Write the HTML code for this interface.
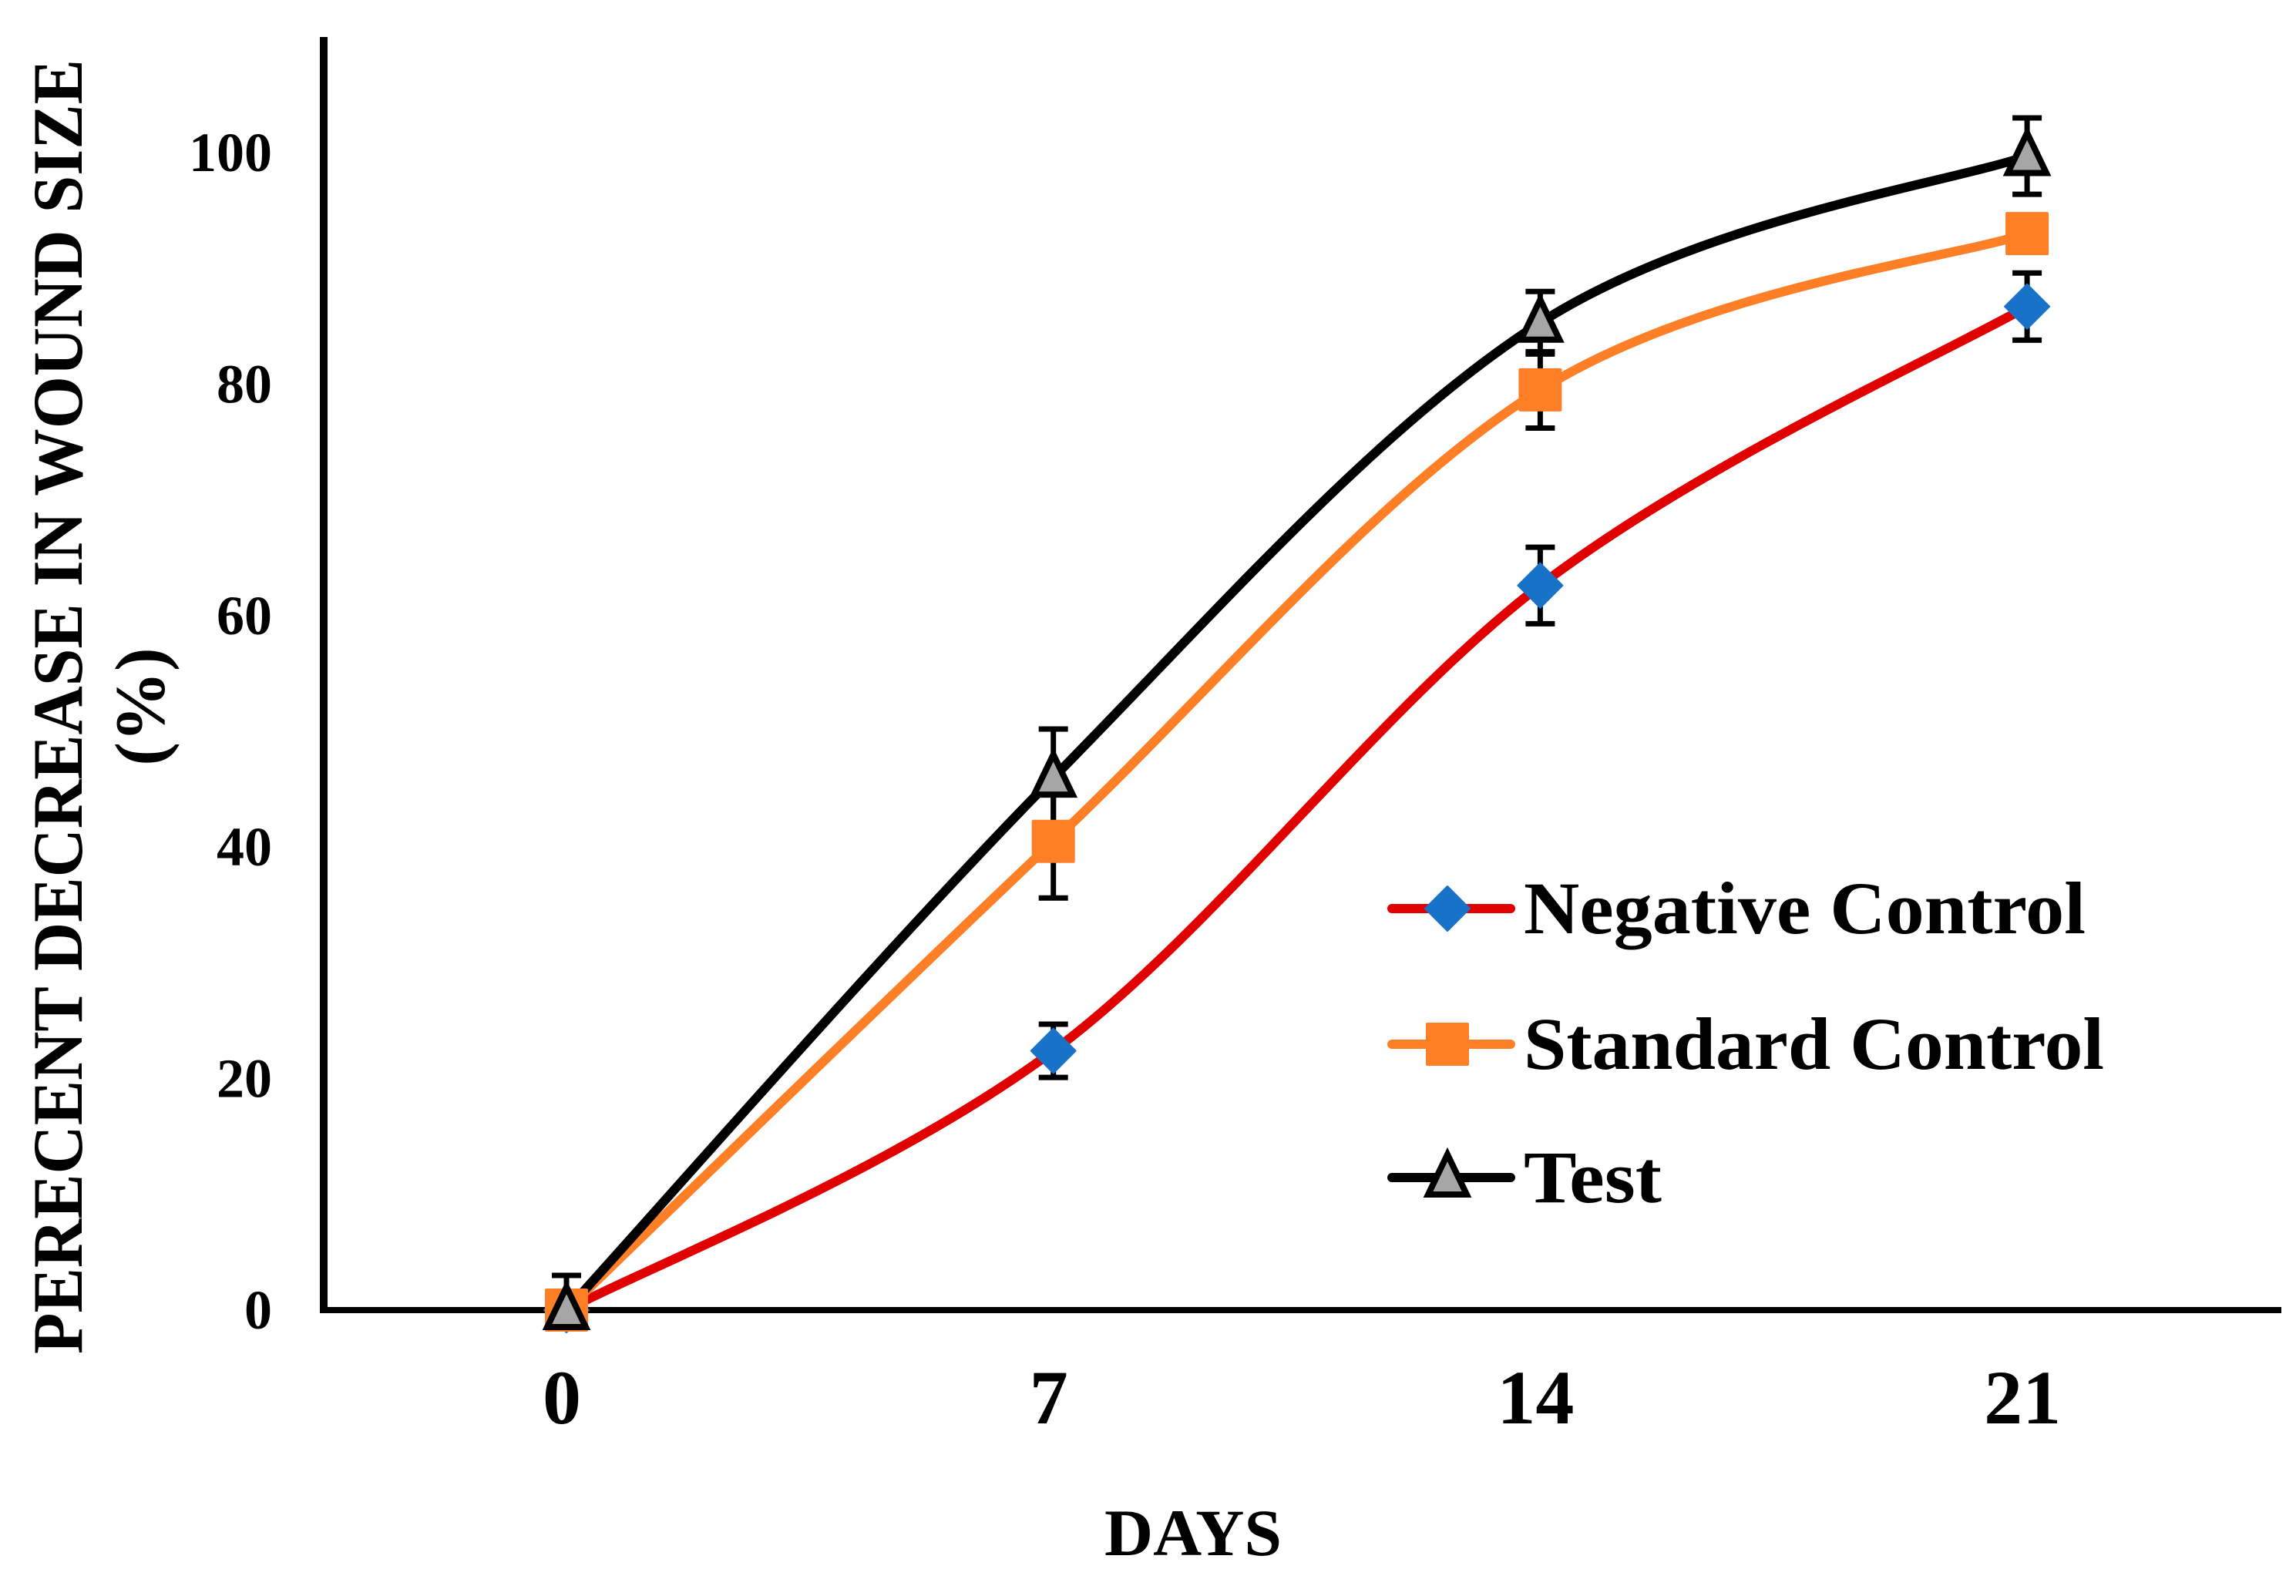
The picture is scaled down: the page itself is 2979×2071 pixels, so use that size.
<!DOCTYPE html>
<html><head><meta charset="utf-8"><style>
html,body{margin:0;padding:0;background:#fff;}
svg{display:block;font-family:"Liberation Serif",serif;font-weight:bold;}
</style></head><body>
<svg id="chart" width="2979" height="2071" viewBox="0 0 2979 2071" xmlns="http://www.w3.org/2000/svg">
<rect width="2979" height="2071" fill="#fff"/>
<g id="titles">
<text transform="translate(106,917) rotate(-90)" text-anchor="middle" font-size="92" textLength="1680" lengthAdjust="spacingAndGlyphs">PERECENT DECREASE IN WOUND SIZE</text>
<text transform="translate(213,917) rotate(-90)" text-anchor="middle" font-size="92">(%)</text>
<text x="1548" y="2018" text-anchor="middle" font-size="86" textLength="230" lengthAdjust="spacingAndGlyphs">DAYS</text>
</g>
<g id="axes"></g>
<g id="series"></g>
<g id="legend"></g>
</svg>
<script>
const categories = ["0", "7", "14", "21"];
const yTicks = [0, 20, 40, 60, 80, 100];
const seriesNames = ["Negative Control", "Standard Control", "Test"];
const negValues = [0, 22.4, 62.6, 86.7];
const negErrors = [0, 2.3, 3.3, 2.9];
const stdValues = [0, 40.5, 79.5, 93];
const stdErrors = [0, 4.9, 3.3, 1.5];
const testValues = [0, 46, 85.3, 99.7];
const testErrors = [3, 4.2, 2.7, 3.3];

const NS = "http://www.w3.org/2000/svg";
const xScale = i => 735 + 631.7 * i;
const yScale = v => 1700 - v * 15.02;
function mk(tag, attrs, parent) {
  const e = document.createElementNS(NS, tag);
  for (const k in attrs) e.setAttribute(k, attrs[k]);
  parent.appendChild(e);
  return e;
}
const axes = document.getElementById('axes');
const series = document.getElementById('series');
const legend = document.getElementById('legend');

let yAxis = mk('line', {x1: 420, y1: 48, x2: 420, y2: 1704, stroke: '#000', 'stroke-width': 10}, axes);


let xAxis = mk('line', {x1: 416, y1: yScale(0), x2: 2960, y2: yScale(0), stroke: '#000', 'stroke-width': 8}, axes);


yTicks.forEach(t => {
  const tx = mk('text', {x: 353, y: yScale(t) + 24, 'text-anchor': 'end', 'font-size': 72}, axes);
  tx.textContent = String(t);
  
  
});
categories.forEach((c, i) => {
  const tx = mk('text', {x: xScale(i) - 6, y: 1847, 'text-anchor': 'middle', 'font-size': 100}, axes);
  tx.textContent = c;
  
  
});

function smoothPath(vals) {
  const p = vals.map((v, i) => [xScale(i), yScale(v)]);
  let d = 'M' + p[0][0] + ',' + p[0][1];
  for (let i = 0; i < p.length - 1; i++) {
    const p0 = p[i - 1] || p[i], p1 = p[i], p2 = p[i + 1], p3 = p[i + 2] || p[i + 1];
    const c1 = [p1[0] + (p2[0] - p0[0]) / 6, p1[1] + (p2[1] - p0[1]) / 6];
    const c2 = [p2[0] - (p3[0] - p1[0]) / 6, p2[1] - (p3[1] - p1[1]) / 6];
    d += ' C' + c1[0] + ',' + c1[1] + ' ' + c2[0] + ',' + c2[1] + ' ' + p2[0] + ',' + p2[1];
  }
  return d;
}
function marker(kind, cx, cy, parent) {
  let m;
  if (kind === 'diamond') {
    m = mk('polygon', {points: `${cx},${cy-29} ${cx+29},${cy} ${cx},${cy+29} ${cx-29},${cy}`, fill: '#1873C8', 'stroke-linejoin': 'round', stroke: '#1873C8', 'stroke-width': 2}, parent);
  } else if (kind === 'square') {
    m = mk('rect', {x: cx - 28, y: cy - 28, width: 56, height: 56, rx: 2, fill: '#FF7F27'}, parent);
  } else {
    m = mk('polygon', {points: `${cx},${cy-30} ${cx+25},${cy+22} ${cx-25},${cy+22}`, fill: '#A6A6A6', stroke: '#000', 'stroke-width': 8, 'stroke-linejoin': 'miter'}, parent);
  }
  return m;
}
const defs = [
  {vals: negValues, errs: negErrors, color: '#E00000', kind: 'diamond', key: 'negative-control'},
  {vals: stdValues, errs: stdErrors, color: '#FF7F27', kind: 'square', key: 'standard-control'},
  {vals: testValues, errs: testErrors, color: '#000000', kind: 'triangle', key: 'test'}
];
defs.forEach(s => {
  s.vals.forEach((v, i) => {
    if (!s.errs[i]) return;
    const x = xScale(i), y1 = yScale(v + s.errs[i]), rawY2 = yScale(v - s.errs[i]);
    const clipped = rawY2 > yScale(0);
    const y2 = clipped ? yScale(0) : rawY2;
    const g = mk('g', {stroke: '#000', 'stroke-width': 7}, series);
    
    
    mk('line', {x1: x, y1: y1, x2: x, y2: y2}, g);
    mk('line', {x1: x - 19, y1: y1, x2: x + 19, y2: y1}, g);
    if (!clipped) mk('line', {x1: x - 19, y1: y2, x2: x + 19, y2: y2}, g);
  });
});
defs.forEach(s => {
  const path = mk('path', {d: smoothPath(s.vals), fill: 'none', stroke: s.color, 'stroke-width': 12, 'stroke-linecap': 'round'}, series);
  
  
});
defs.forEach(s => {
  s.vals.forEach((v, i) => {
    const m = marker(s.kind, xScale(i), yScale(v), series);
    
    
  });
});
const legendY = [1179, 1355, 1528];
const legendW = [729, 753, 179];
defs.forEach((s, i) => {
  const g = mk('g', {}, legend);
  
  
  const y = legendY[i];
  mk('line', {x1: 1806, y1: y, x2: 1960, y2: y, stroke: s.color, 'stroke-width': 12, 'stroke-linecap': 'round'}, g);
  marker(s.kind, 1878, y, g);
  const t = mk('text', {x: 1977, y: y + 32, 'font-size': 96, textLength: legendW[i], lengthAdjust: 'spacingAndGlyphs'}, g);
  t.textContent = seriesNames[i];
});
</script>
</body></html>
